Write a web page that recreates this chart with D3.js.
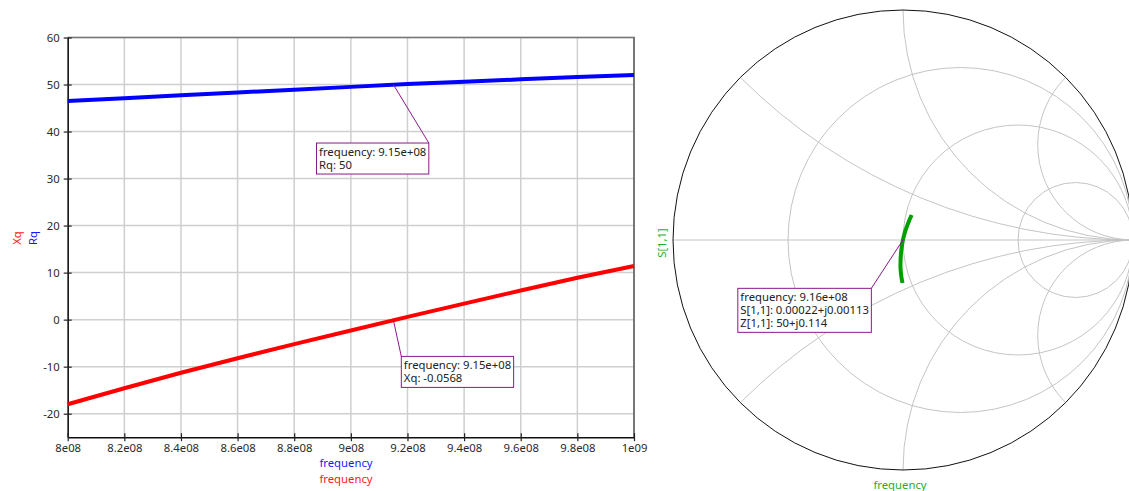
<!DOCTYPE html>
<html>
<head>
<meta charset="utf-8">
<script src="https://cdn.jsdelivr.net/npm/d3@7"></script>
<style>
  html, body { margin: 0; padding: 0; background: #fff; }
  svg { display: block; font-family: "Noto Sans", sans-serif; }
</style>
</head>
<body>
<svg id="chart" width="1129" height="491"></svg>
<script>
// Sweep frequencies (Hz)
const freq = [800e6, 820e6, 840e6, 860e6, 880e6, 900e6, 920e6, 940e6, 960e6, 980e6, 1000e6];
// Input resistance Rq and reactance Xq (ohm)
const rq = [46.5, 47.1, 47.7, 48.3, 48.9, 49.5, 50.1, 50.6, 51.1, 51.6, 52.0];
const xq = [-18.0, -14.6, -11.3, -8.2, -5.2, -2.3, 0.6, 3.4, 6.2, 8.9, 11.4];
// Reflection coefficient S[1,1]
const s11Re = [-0.0024, -0.0081, -0.0110, -0.0103, -0.0083, -0.0045, 0.0010, 0.0081, 0.0175, 0.0270, 0.0376];
const s11Im = [-0.1870, -0.1517, -0.1170, -0.0843, -0.0530, -0.0232, 0.0060, 0.0335, 0.0601, 0.0849, 0.1088];

// Axis ticks
const xTicks = [8e8, 8.2e8, 8.4e8, 8.6e8, 8.8e8, 9e8, 9.2e8, 9.4e8, 9.6e8, 9.8e8, 1e9];
const xTickLabels = ["8e08", "8.2e08", "8.4e08", "8.6e08", "8.8e08", "9e08", "9.2e08", "9.4e08", "9.6e08", "9.8e08", "1e09"];
const yTicks = [-20, -10, 0, 10, 20, 30, 40, 50, 60];
const yTickLabels = ["-20", "-10", "0", "10", "20", "30", "40", "50", "60"];

// Markers
const rqMarker = { f: 9.15e8, v: 50, lines: ["frequency: 9.15e+08", "Rq: 50"] };
const xqMarker = { f: 9.15e8, v: -0.0568, lines: ["frequency: 9.15e+08", "Xq: -0.0568"] };
const sMarker = { re: 0.00022, im: 0.00113, lines: ["frequency: 9.16e+08", "S[1,1]: 0.00022+j0.00113", "Z[1,1]: 50+j0.114"] };

// Smith grid: resistance circles and reactance arcs (normalised)
const smithR = [1 / 3, 1, 3];
const smithX = [0.4142, 1, 2.4142, -0.4142, -1, -2.4142];

const svg = d3.select("#chart");
const FS = 11.3;
const tickColor = "#2a2a2a";
const markColor = "#8a1a8a";

// ---------- Rectangular chart ----------
const pLeft = 67.7, pRight = 634, pTop = 37.5, pBottom = 437.2;
const x = d3.scaleLinear().domain([8e8, 1e9]).range([pLeft, pRight]);
const y = d3.scaleLinear().domain([-25, 60]).range([pBottom, pTop]);

const grid = svg.append("g");
grid.selectAll("line.v").data(xTicks).join("line")
  .attr("x1", d => x(d)).attr("x2", d => x(d))
  .attr("y1", pTop).attr("y2", pBottom)
  .attr("stroke", "#cfcfcf").attr("stroke-width", 1.5);
grid.selectAll("line.h").data(yTicks).join("line")
  .attr("x1", pLeft).attr("x2", pRight)
  .attr("y1", d => y(d)).attr("y2", d => y(d))
  .attr("stroke", "#cfcfcf").attr("stroke-width", 1.5);

// frame: top and right in gray
svg.append("line").attr("x1", pLeft).attr("x2", pRight + 1).attr("y1", pTop).attr("y2", pTop)
  .attr("stroke", "#777").attr("stroke-width", 1.5);
svg.append("line").attr("x1", pRight).attr("x2", pRight).attr("y1", pTop).attr("y2", pBottom)
  .attr("stroke", "#777").attr("stroke-width", 2);

// axes
const yAxis = d3.axisLeft(y).tickValues(yTicks).tickFormat((d, i) => yTickLabels[i])
  .tickSizeInner(4).tickSizeOuter(0).tickPadding(4);
const gy = svg.append("g").attr("transform", `translate(${pLeft},0)`).call(yAxis);
const xAxis = d3.axisBottom(x).tickValues(xTicks).tickFormat((d, i) => xTickLabels[i])
  .tickSizeInner(4).tickSizeOuter(0).tickPadding(3);
const gx = svg.append("g").attr("transform", `translate(0,${pBottom})`).call(xAxis);
[gx, gy].forEach(g => {
  g.select(".domain").attr("stroke", "#111").attr("stroke-width", 1.5);
  g.selectAll(".tick text").attr("font-size", FS).attr("fill", tickColor).attr("font-family", "Noto Sans");
  g.selectAll(".tick line").attr("stroke", "#222").attr("stroke-width", 1.2);
});
// ticks crossing the axis on both sides
gy.selectAll(".tick line").attr("x1", 4).attr("x2", -4);
gx.selectAll(".tick line").attr("y1", -4).attr("y2", 4);

// series
const lineGen = (vals) => d3.line().x((d, i) => x(freq[i])).y(d => y(d))(vals);
svg.append("path").attr("d", lineGen(rq)).attr("fill", "none")
  .attr("stroke", "#0000ff").attr("stroke-width", 4);
svg.append("path").attr("d", lineGen(xq)).attr("fill", "none")
  .attr("stroke", "#ff0000").attr("stroke-width", 4);

// axis titles
svg.append("text").attr("transform", "translate(20.5,238) rotate(-90)")
  .attr("text-anchor", "middle").attr("font-size", FS).attr("fill", "#ff1a1a").text("Xq");
svg.append("text").attr("transform", "translate(37,238) rotate(-90)")
  .attr("text-anchor", "middle").attr("font-size", FS).attr("fill", "#1a1aff").text("Rq");
svg.append("text").attr("x", 346).attr("y", 467).attr("text-anchor", "middle")
  .attr("font-size", FS).attr("fill", "#1a1aff").text("frequency");
svg.append("text").attr("x", 346).attr("y", 483).attr("text-anchor", "middle")
  .attr("font-size", FS).attr("fill", "#ff1a1a").text("frequency");

// marker box helper: anchor point, box corner, which corner the leader meets
function markerBox(ax, ay, bx, by, corner, lines) {
  const g = svg.append("g");
  const rect = g.append("rect").attr("fill", "#fff").attr("stroke", markColor).attr("stroke-width", 1);
  const t = g.append("text").attr("font-size", FS).attr("fill", "#222");
  lines.forEach((s, i) => t.append("tspan").attr("x", 0).attr("y", i * 13).text(s));
  const bb = t.node().getBBox();
  const w = bb.width + 5, h = lines.length * 13 + 5;
  const x0 = corner === "tr" ? bx - w : bx;
  const y0 = by;
  rect.attr("x", x0).attr("y", y0).attr("width", w).attr("height", h);
  t.attr("transform", `translate(${x0 + 2.5},${y0 + 13})`);
  svg.insert("line", () => g.node())
    .attr("x1", ax).attr("y1", ay).attr("x2", bx).attr("y2", by)
    .attr("stroke", markColor).attr("stroke-width", 1);
}

const rx = x(rqMarker.f), ry = y(rqMarker.v);
markerBox(rx, ry, rx + 35.5, ry + 58.5, "tr", rqMarker.lines);
const xx = x(xqMarker.f), xy = y(xqMarker.v);
markerBox(xx, xy, xx + 8, xy + 36.5, "tl", xqMarker.lines);

// ---------- Smith chart ----------
const cx = 903, cy = 240, R = 230;
const sx = d3.scaleLinear().domain([-1, 1]).range([cx - R, cx + R]);
const sy = d3.scaleLinear().domain([-1, 1]).range([cy + R, cy - R]);
const k = R; // pixels per unit of reflection coefficient

svg.append("clipPath").attr("id", "unit").append("circle")
  .attr("cx", cx).attr("cy", cy).attr("r", R);
const sg = svg.append("g").attr("clip-path", "url(#unit)");
sg.append("line").attr("x1", sx(-1)).attr("x2", sx(1)).attr("y1", sy(0)).attr("y2", sy(0))
  .attr("stroke", "#c4c4c4").attr("stroke-width", 1);
sg.selectAll("circle.r").data(smithR).join("circle")
  .attr("cx", d => sx(d / (1 + d))).attr("cy", sy(0)).attr("r", d => k / (1 + d))
  .attr("fill", "none").attr("stroke", "#c4c4c4").attr("stroke-width", 1);
sg.selectAll("circle.x").data(smithX).join("circle")
  .attr("cx", sx(1)).attr("cy", d => sy(1 / d)).attr("r", d => k / Math.abs(d))
  .attr("fill", "none").attr("stroke", "#c4c4c4").attr("stroke-width", 1);
svg.append("circle").attr("cx", cx).attr("cy", cy).attr("r", R)
  .attr("fill", "none").attr("stroke", "#111").attr("stroke-width", 1);

svg.append("path")
  .attr("d", d3.line().curve(d3.curveCatmullRom).x((d, i) => sx(s11Re[i])).y((d, i) => sy(s11Im[i]))(freq))
  .attr("fill", "none").attr("stroke", "#00a000").attr("stroke-width", 4);

const mx = sx(sMarker.re), my = sy(sMarker.im);
markerBox(mx, my, mx - 31.7, my + 48.6, "tr", sMarker.lines);

svg.append("text").attr("transform", "translate(666,243) rotate(-90)")
  .attr("text-anchor", "middle").attr("font-size", FS).attr("fill", "#1fb01f").text("S[1,1]");
svg.append("text").attr("x", 900).attr("y", 489).attr("text-anchor", "middle")
  .attr("font-size", FS).attr("fill", "#1fb01f").text("frequency");
</script>
</body>
</html>
